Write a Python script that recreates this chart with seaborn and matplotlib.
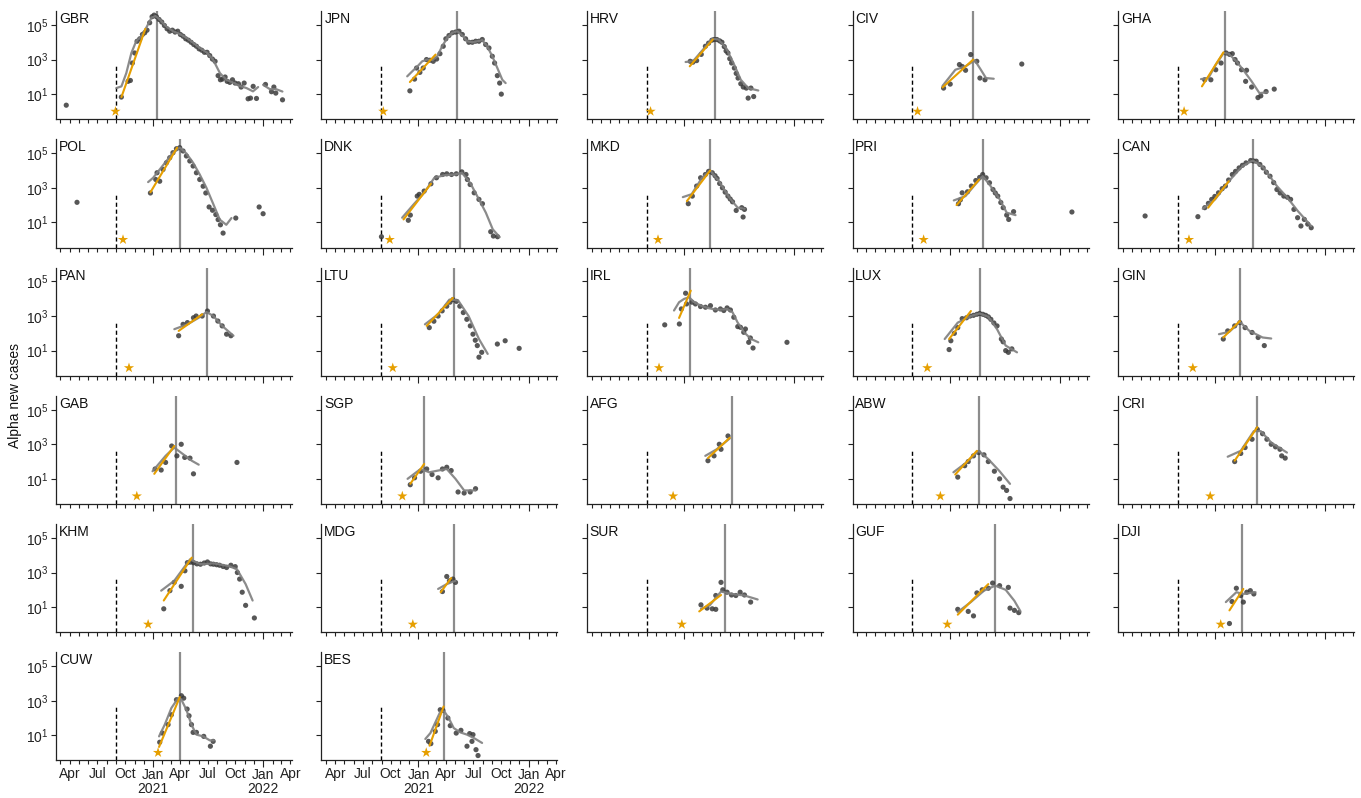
import numpy as np
import pandas as pd
import matplotlib
matplotlib.use("Agg")
import matplotlib.pyplot as plt
import matplotlib.dates as mdates
from matplotlib.ticker import FixedLocator, NullLocator, FuncFormatter
import seaborn as sns

# ---------------- data (x: decimal months since 2020-01-01, y: log10 new cases) -------------
COUNTRIES = ["GBR", "JPN", "HRV", "CIV", "GHA",
             "POL", "DNK", "MKD", "PRI", "CAN",
             "PAN", "LTU", "IRL", "LUX", "GIN",
             "GAB", "SGP", "AFG", "ABW", "CRI",
             "KHM", "MDG", "SUR", "GUF", "DJI",
             "CUW", "BES"]

ALPHA_FIRST_MONTH = 8.0          # first detection of Alpha (dashed line)
DASH_TOP = 500                   # dashed line top (cases)

STAR = {"GBR": 7.95, "JPN": 8.2, "HRV": 8.39, "CIV": 8.55, "GHA": 8.66,
        "POL": 8.77, "DNK": 8.9, "MKD": 9.2, "PRI": 9.21, "CAN": 9.19,
        "PAN": 9.42, "LTU": 9.23, "IRL": 9.31, "LUX": 9.61, "GIN": 9.61,
        "GAB": 10.27, "SGP": 10.27, "AFG": 10.84, "ABW": 11.03, "CRI": 11.5,
        "KHM": 11.5, "MDG": 11.41, "SUR": 11.79, "GUF": 11.79, "DJI": 12.64,
        "CUW": 12.58, "BES": 12.87}

PEAK = {"GBR": 12.47, "JPN": 16.17, "HRV": 15.37, "CIV": 14.6, "GHA": 13.1,
        "POL": 15.0, "DNK": 16.52, "MKD": 14.87, "PRI": 15.63, "CAN": 16.13,
        "PAN": 17.85, "LTU": 15.86, "IRL": 12.65, "LUX": 15.39, "GIN": 14.72,
        "GAB": 14.53, "SGP": 12.64, "AFG": 17.28, "ABW": 15.2, "CRI": 16.62,
        "KHM": 16.43, "MDG": 15.86, "SUR": 16.43, "GUF": 17.0, "DJI": 14.91,
        "CUW": 15.0, "BES": 14.76}

FIT = {"GBR": [(8.6, 0.83), (11.2, 4.78)], "JPN": [(11.09, 1.70), (13.89, 3.29)],
       "HRV": [(12.65, 2.61), (15.16, 4.16)], "CIV": [(11.27, 1.39), (14.6, 3.0)],
       "GHA": [(10.6, 1.45), (12.94, 3.42)], "POL": [(11.75, 2.74), (14.65, 5.32)],
       "DNK": [(10.4, 1.17), (13.38, 3.23)], "MKD": [(12.34, 2.23), (14.87, 4.0)],
       "PRI": [(12.79, 2.0), (15.25, 3.48)], "CAN": [(11.28, 1.85), (13.52, 3.38)],
       "PAN": [(14.82, 2.14), (17.38, 3.1)], "LTU": [(12.92, 2.43), (15.77, 4.05)],
       "IRL": [(11.49, 2.89), (12.76, 4.47)], "LUX": [(11.98, 1.67), (14.35, 3.29)],
       "GIN": [(12.92, 1.76), (14.72, 2.71)], "GAB": [(12.17, 1.29), (14.34, 2.9)],
       "SGP": [(11.13, 0.71), (12.64, 1.86)], "AFG": [(14.63, 2.2), (17.0, 3.38)],
       "ABW": [(12.64, 1.25), (15.0, 2.62)], "CRI": [(14.16, 2.05), (16.62, 3.99)],
       "KHM": [(13.2, 1.38), (16.24, 3.86)], "MDG": [(14.44, 1.86), (15.58, 2.68)],
       "SUR": [(13.68, 0.75), (16.05, 1.7)], "GUF": [(12.92, 0.56), (16.24, 2.33)],
       "DJI": [(13.59, 0.81), (15.1, 2.05)], "CUW": [(12.69, 0.33), (14.94, 3.21)],
       "BES": [(13.23, 0.4), (14.76, 2.67)]}

POINTS = {
    "GBR": [(2.6, 0.36), (8.59, 0.83), (9.32, 1.74), (9.57, 1.79), (9.79, 2.80), (10.04, 3.38),
            (10.30, 4.06), (10.59, 4.20), (10.88, 4.45), (11.13, 4.55), (11.38, 4.70), (11.67, 5.13),
            (11.93, 5.48), (12.15, 5.57), (12.40, 5.48), (12.69, 5.32), (12.98, 5.17), (13.27, 4.97),
            (13.56, 4.78), (13.85, 4.64), (14.14, 4.70), (14.43, 4.59), (14.72, 4.64), (15.01, 4.45),
            (15.30, 4.35), (15.59, 4.20), (15.88, 4.12), (16.17, 4.00), (16.46, 3.87), (16.75, 3.77),
            (17.04, 3.62), (17.33, 3.54), (17.62, 3.42), (17.91, 3.42), (18.20, 3.23), (18.49, 3.03),
            (18.78, 2.90), (19.11, 2.07), (19.36, 1.83), (19.58, 1.87), (19.87, 1.99), (20.09, 1.74),
            (20.38, 1.68), (20.67, 1.83), (20.96, 1.64), (21.32, 1.60), (21.61, 1.41), (21.94, 1.64),
            (22.37, 0.73), (22.63, 0.77), (22.92, 1.45), (23.28, 0.75), (24.26, 1.56), (24.91, 1.14),
            (25.17, 1.41), (25.38, 1.06), (26.11, 0.67)],
    "JPN": [(11.09, 1.19), (11.6, 1.87), (11.82, 2.51), (12.18, 2.26), (12.54, 2.51), (12.9, 3.0),
            (13.27, 2.96), (13.63, 2.9), (14.0, 3.03), (14.36, 3.34), (14.72, 3.77), (15.0, 4.2),
            (15.34, 4.39), (15.7, 4.55), (16.06, 4.59), (16.43, 4.64), (16.79, 4.45), (17.15, 4.2),
            (17.5, 4.0), (17.88, 4.0), (18.24, 4.06), (18.6, 4.06), (18.96, 4.16), (19.33, 3.87),
            (19.69, 3.67), (20.05, 3.19), (20.3, 2.8), (20.6, 2.07), (20.85, 1.64), (21.03, 1.0)],
    "HRV": [(12.7, 2.9), (13.0, 2.85), (13.4, 2.94), (13.9, 3.3), (14.35, 3.77), (14.7, 3.95),
            (15.06, 4.12), (15.3, 4.16), (15.6, 4.16), (15.9, 4.08), (16.15, 4.0), (16.4, 3.75),
            (16.6, 3.5), (16.8, 3.38), (17.0, 3.05), (17.2, 2.8), (17.5, 2.51), (17.7, 2.2),
            (17.9, 1.93), (18.2, 1.6), (18.47, 1.41), (18.8, 1.35), (19.0, 0.77), (19.3, 1.35),
            (19.6, 0.86)],
    "CIV": [(11.38, 1.35), (12.1, 1.58), (13.1, 2.71), (13.4, 2.6), (13.77, 2.38), (14.33, 3.29),
            (14.99, 2.9), (15.33, 1.93), (15.88, 1.83), (19.88, 2.74)],
    "GHA": [(10.9, 1.83), (11.57, 1.83), (12.1, 2.41), (12.68, 2.8), (13.24, 3.38), (13.6, 3.3),
            (13.9, 3.34), (14.2, 3.0), (14.46, 2.8), (14.9, 2.41), (15.35, 1.74), (15.45, 2.38),
            (16.0, 1.41), (16.69, 0.8), (17.0, 0.9), (17.57, 1.15), (18.46, 1.29)],
    "POL": [(3.77, 2.16), (11.75, 2.7), (12.33, 3.48), (12.47, 3.87), (12.76, 3.38), (13.12, 4.06),
            (13.49, 4.45), (13.85, 4.74), (14.2, 5.03), (14.58, 5.26), (14.94, 5.32), (15.3, 5.13),
            (15.66, 4.84), (16.03, 4.55), (16.39, 4.26), (16.75, 3.87), (17.11, 3.48), (17.48, 3.09),
            (17.77, 2.7), (18.13, 1.89), (18.5, 1.7), (18.86, 1.45), (19.11, 1.16), (19.36, 0.86),
            (19.65, 0.38), (21.03, 1.25), (23.57, 1.89), (24.0, 1.5)],
    "DNK": [(8.0, 0.17), (10.92, 1.12), (11.14, 1.42), (11.89, 2.52), (12.11, 2.62), (12.64, 2.81),
            (13.38, 3.23), (13.98, 3.58), (14.65, 3.77), (15.1, 3.81), (15.62, 3.77), (16.14, 3.81),
            (16.74, 3.92), (17.19, 3.77), (17.34, 3.48), (17.64, 3.19), (18.08, 2.71), (18.6, 2.33),
            (18.98, 2.08), (19.88, 0.46), (20.17, 0.21), (20.62, 0.17)],
    "MKD": [(12.49, 2.08), (12.93, 2.52), (13.4, 3.1), (13.83, 3.58), (14.35, 3.77), (14.7, 3.95),
            (15.1, 3.87), (15.4, 3.7), (15.62, 3.54), (15.9, 3.25), (16.2, 3.0), (16.5, 2.75),
            (16.8, 2.52), (17.05, 2.35), (17.3, 2.19), (17.7, 1.69), (18.3, 1.85), (18.45, 1.31),
            (18.6, 1.75)],
    "PRI": [(13.0, 2.08), (13.2, 2.3), (13.4, 2.71), (13.98, 2.77), (14.4, 3.1), (14.88, 3.42),
            (15.3, 3.6), (15.63, 3.77), (16.0, 3.58), (16.37, 3.29), (16.75, 2.9), (17.0, 2.7),
            (17.27, 2.52), (17.6, 2.15), (17.86, 1.85), (18.24, 1.42), (18.46, 1.17), (18.99, 1.62),
            (25.33, 1.6)],
    "CAN": [(4.42, 1.37), (10.16, 1.33), (10.91, 1.85), (11.3, 2.1), (11.66, 2.33), (12.0, 2.5),
            (12.4, 2.71), (12.8, 2.95), (13.15, 3.1), (13.5, 3.45), (13.9, 3.77), (14.25, 3.95),
            (14.64, 4.15), (15.0, 4.3), (15.39, 4.44), (15.9, 4.58), (16.2, 4.55), (16.5, 4.54),
            (16.9, 4.35), (17.25, 4.15), (17.6, 3.9), (18.0, 3.67), (18.4, 3.3), (18.75, 2.9),
            (19.1, 2.7), (19.5, 2.52), (19.9, 2.45), (20.24, 2.33), (20.6, 1.75), (21.0, 1.27),
            (21.36, 0.79), (21.73, 1.17), (22.1, 0.9), (22.48, 0.69)],
    "PAN": [(14.82, 1.86), (15.3, 2.52), (15.77, 2.62), (16.43, 2.9), (16.72, 3.0), (17.38, 3.0),
            (17.95, 3.29), (18.6, 3.0), (19.08, 2.71), (19.55, 2.43), (20.03, 1.95), (20.5, 1.86)],
    "LTU": [(13.2, 2.33), (13.7, 2.7), (14.16, 3.0), (14.6, 3.3), (15.1, 3.57), (15.45, 3.8),
            (15.77, 3.95), (16.15, 3.85), (16.52, 3.57), (16.9, 3.2), (17.28, 2.81), (17.66, 2.43),
            (17.95, 1.95), (18.2, 1.6), (18.42, 1.29), (18.6, 0.62), (18.9, 0.9), (20.6, 1.38),
            (21.45, 1.57), (22.97, 1.13)],
    "IRL": [(9.93, 2.49), (11.52, 2.54), (11.74, 3.41), (12.2, 4.32), (12.3, 3.7), (12.9, 3.8),
            (13.27, 3.7), (13.82, 3.55), (14.36, 3.51), (14.9, 3.6), (15.44, 3.35), (15.98, 3.41),
            (16.35, 3.32), (16.71, 3.47), (17.07, 3.35), (17.44, 2.93), (17.87, 2.39), (18.16, 2.35),
            (18.52, 2.06), (18.7, 2.25), (19.06, 1.48), (19.24, 1.73), (19.53, 1.15), (23.22, 1.48)],
    "LUX": [(11.98, 1.06), (12.17, 1.57), (12.55, 2.0), (12.92, 2.33), (13.4, 2.85), (13.87, 2.9),
            (14.25, 3.0), (14.63, 3.04), (15.0, 3.1), (15.3, 3.15), (15.65, 3.1), (15.96, 3.04),
            (16.25, 2.95), (16.52, 2.81), (16.85, 2.6), (17.19, 2.43), (17.66, 1.67), (17.85, 1.51),
            (18.13, 1.0), (18.42, 0.9), (18.8, 1.1)],
    "GIN": [(12.92, 1.67), (13.4, 2.14), (14.16, 2.43), (14.72, 2.62), (15.29, 2.33), (16.05, 2.05),
            (16.71, 1.76), (17.38, 1.29)],
    "GAB": [(12.26, 1.57), (12.92, 1.51), (13.4, 1.95), (14.06, 2.9), (14.63, 2.33), (15.1, 3.0),
            (15.48, 2.24), (16.05, 2.2), (16.43, 1.29), (21.16, 1.95)],
    "SGP": [(11.13, 0.66), (11.6, 1.06), (12.26, 1.44), (12.92, 1.57), (13.5, 1.25), (14.16, 1.06),
            (14.63, 1.57), (15.1, 1.67), (15.58, 1.48), (16.33, 0.24), (16.99, 0.18), (17.65, 0.24),
            (18.23, 0.43)],
    "AFG": [(14.63, 2.05), (15.29, 2.33), (15.86, 3.0), (16.05, 2.71), (16.81, 3.48)],
    "ABW": [(12.92, 1.1), (13.68, 1.76), (14.06, 2.0), (14.63, 2.33), (15.2, 2.52), (15.77, 2.39),
            (16.24, 2.0), (16.9, 1.44), (17.47, 1.0), (17.85, 0.52), (18.23, 0.33), (18.6, -0.14)],
    "CRI": [(14.16, 2.0), (14.82, 2.47), (15.29, 2.81), (16.05, 3.29), (16.62, 3.86), (17.19, 3.61),
            (17.66, 3.29), (18.13, 3.0), (18.6, 2.85), (19.08, 2.71), (19.27, 2.33), (19.65, 2.2)],
    "KHM": [(13.2, 0.9), (13.87, 1.95), (14.34, 2.43), (15.1, 2.2), (15.5, 3.1), (15.77, 3.57),
            (16.1, 3.6), (16.43, 3.57), (16.8, 3.5), (17.19, 3.48), (17.6, 3.55), (17.95, 3.61),
            (18.3, 3.5), (18.6, 3.48), (18.95, 3.45), (19.27, 3.42), (19.65, 3.35), (20.03, 3.29),
            (20.5, 3.42), (20.97, 3.34), (21.2, 3.0), (21.45, 2.62), (21.73, 1.86), (22.1, 1.1),
            (23.05, 0.37)],
    "MDG": [(14.63, 1.9), (15.1, 2.77), (15.39, 2.52), (15.77, 2.62), (16.05, 2.43)],
    "SUR": [(13.87, 1.13), (14.53, 0.94), (15.1, 0.9), (15.48, 0.87), (15.48, 1.67), (16.05, 2.43),
            (16.24, 2.0), (16.71, 1.86), (17.19, 1.7), (17.66, 1.67), (18.13, 1.86), (18.6, 1.7),
            (19.27, 1.29)],
    "GUF": [(12.92, 0.87), (14.06, 0.75), (14.63, 0.49), (15.0, 1.82), (15.58, 2.0), (16.24, 2.09),
            (16.71, 2.39), (17.47, 2.24), (18.42, 2.14), (18.6, 0.94), (19.08, 0.81), (19.55, 0.68)],
    "DJI": [(13.59, 0.05), (13.87, 1.32), (14.34, 2.09), (14.82, 1.67), (15.1, 1.29), (15.48, 1.86),
            (15.86, 1.95), (16.24, 1.76)],
    "CUW": [(12.76, 0.6), (13.05, 1.13), (13.67, 1.62), (14.03, 2.19), (14.58, 3.06), (15.12, 3.29),
            (15.37, 3.15), (15.74, 2.52), (15.95, 2.13), (16.21, 1.62), (16.39, 1.17), (16.75, 1.17),
            (17.55, 0.94), (18.27, 0.37), (18.57, 0.65)],
    "BES": [(13.12, 0.65), (13.37, 0.52), (13.85, 1.23), (14.1, 1.62), (14.39, 2.48), (14.68, 2.44),
            (15.22, 2.0), (15.48, 1.56), (16.13, 1.13), (16.64, 1.29), (17.3, 0.37), (17.59, 1.1),
            (17.84, 0.65), (17.95, 1.04), (18.28, 0.17), (18.5, -0.17)],
}

CURVES = {
    "GBR": [(8.05, 1.35), (8.6, 1.45), (9.13, 2.22), (9.68, 3.38), (10.2, 4.06), (10.77, 4.35),
            (11.3, 4.84), (11.86, 5.42), (12.3, 5.52), (12.76, 5.32), (13.5, 4.9), (14.2, 4.64),
            (14.9, 4.49), (15.66, 4.26), (16.4, 3.97), (17.1, 3.67), (17.85, 3.42), (18.56, 3.0),
            (19.3, 2.22), (20.0, 1.83), (20.7, 1.68), (21.45, 1.48), (22.2, 1.35), (22.9, 1.16),
            (23.46, 1.41), None, (24.0, 1.54), (24.73, 1.29), (25.4, 1.29), (26.1, 1.15)],
    "JPN": [(10.8, 2.03), (11.35, 2.32), (11.9, 2.6), (12.43, 2.9), (12.98, 3.0), (13.52, 2.96),
            (14.07, 3.19), (14.6, 3.77), (15.16, 4.26), (15.7, 4.55), (16.24, 4.64), (16.79, 4.39),
            (17.33, 4.06), (17.88, 4.0), (18.42, 4.06), (18.96, 4.12), (19.5, 3.77), (20.05, 3.19),
            (20.6, 2.51), (21.14, 1.83), (21.5, 1.64)],
    "HRV": [(12.2, 2.86), (13.0, 2.9), (14.1, 3.58), (15.1, 4.2), (15.77, 4.16), (16.6, 3.67),
            (17.4, 2.8), (18.2, 1.83), (19.0, 1.35), (20.1, 1.21)],
    "CIV": [(11.27, 1.48), (12.66, 2.41), (13.77, 2.61), (14.77, 2.96), (15.43, 2.41), (15.99, 1.93),
            (16.83, 1.89)],
    "GHA": [(10.5, 1.87), (11.3, 1.93), (12.1, 2.7), (12.96, 3.38), (13.5, 3.34), (14.35, 2.9),
            (15.2, 2.32), (16.0, 1.74), (16.85, 1.06), (17.7, 1.1)],
    "POL": [(11.5, 3.33), (12.05, 3.58), (12.76, 4.06), (13.49, 4.55), (14.2, 5.03), (14.94, 5.32),
            (15.66, 4.99), (16.39, 4.45), (17.11, 3.77), (17.84, 3.0), (18.56, 2.09), (19.29, 1.16),
            (20.0, 0.86), (20.56, 1.25)],
    "DNK": [(10.25, 1.27), (11.5, 2.04), (12.64, 2.71), (13.75, 3.58), (14.88, 3.73), (16.0, 3.77),
            (16.74, 3.87), (17.64, 3.29), (18.6, 2.33), (19.35, 1.56), (20.1, 0.6), (20.85, 0.15)],
    "MKD": [(11.9, 2.46), (12.86, 2.63), (13.98, 3.58), (14.87, 4.0), (15.84, 3.38), (16.96, 2.42),
            (17.86, 1.85), (18.6, 1.79)],
    "PRI": [(12.49, 2.27), (13.76, 2.52), (14.88, 3.23), (15.63, 3.67), (16.37, 3.19), (17.49, 2.33),
            (18.24, 1.56), (19.2, 1.42)],
    "CAN": [(10.69, 1.79), (12.03, 2.33), (13.52, 3.38), (15.0, 4.25), (16.13, 4.58), (17.25, 4.19),
            (18.75, 3.1), (19.87, 2.44), (21.0, 1.67), (22.48, 0.79)],
    "PAN": [(14.35, 2.24), (15.77, 2.52), (17.0, 2.9), (17.85, 3.23), (18.6, 3.0), (19.55, 2.43),
            (20.78, 1.86)],
    "LTU": [(12.73, 2.52), (14.16, 3.1), (15.39, 3.95), (16.33, 3.91), (17.47, 3.0), (18.6, 1.67),
            (19.55, 0.81)],
    "IRL": [(10.94, 3.32), (11.49, 3.8), (12.03, 3.99), (12.58, 4.09), (13.12, 3.8), (13.85, 3.61),
            (14.57, 3.47), (15.3, 3.39), (16.02, 3.37), (16.75, 3.41), (17.3, 3.22), (17.84, 2.64),
            (18.56, 2.06), (19.29, 1.68), (20.1, 1.48)],
    "LUX": [(11.5, 1.67), (12.92, 2.62), (14.35, 3.0), (15.3, 3.15), (16.24, 2.96), (17.19, 2.24),
            (18.13, 1.29), (19.36, 0.9)],
    "GIN": [(12.45, 1.95), (13.58, 2.09), (14.72, 2.66), (15.76, 2.14), (17.19, 1.76), (18.13, 1.7)],
    "GAB": [(11.98, 1.44), (13.4, 2.33), (14.34, 2.81), (15.29, 2.43), (16.24, 2.05), (17.0, 1.82)],
    "SGP": [(10.84, 1.0), (12.26, 1.57), (13.2, 1.38), (14.16, 1.48), (15.1, 1.57), (16.05, 1.0),
            (16.99, 0.33), (18.23, 0.33)],
    "AFG": [(14.34, 2.33), (15.58, 2.71), (17.0, 3.34)],
    "ABW": [(12.45, 1.38), (13.87, 1.95), (15.2, 2.62), (16.24, 2.14), (17.47, 1.44), (18.6, 0.71)],
    "CRI": [(13.4, 2.28), (14.82, 2.62), (16.24, 3.76), (17.0, 3.76), (18.13, 3.1), (19.84, 2.52)],
    "KHM": [(12.92, 1.95), (14.34, 2.52), (16.05, 3.76), (17.19, 3.48), (18.6, 3.53), (20.22, 3.38),
            (21.16, 3.19), (22.1, 2.33), (22.86, 1.38)],
    "MDG": [(14.16, 2.05), (15.1, 2.33), (16.05, 2.52)],
    "SUR": [(13.87, 0.9), (14.82, 1.1), (16.05, 1.9), (17.19, 1.76), (18.6, 1.67), (20.03, 1.44)],
    "GUF": [(12.92, 0.71), (14.34, 1.29), (15.77, 1.95), (17.0, 2.24), (18.13, 2.0), (19.08, 1.36),
            (19.74, 0.75)],
    "DJI": [(13.2, 1.29), (14.34, 1.86), (15.1, 1.76), (16.43, 1.86)],
    "CUW": [(12.69, 0.94), (13.31, 1.62), (14.03, 2.58), (14.76, 3.15), (15.12, 3.06), (15.66, 2.48),
            (16.21, 1.62), (16.75, 1.04), (17.48, 0.94), (18.2, 0.71), (18.64, 0.71)],
    "BES": [(12.77, 0.79), (13.32, 1.13), (13.86, 1.75), (14.41, 2.38), (14.84, 2.38), (15.31, 2.0),
            (15.86, 1.42), (16.58, 1.17), (17.3, 1.04), (18.03, 0.85), (18.94, 0.56)],
}

LABELLED_X = {"CUW", "BES"}


def to_date(m):
    return pd.Timestamp("2020-01-01") + pd.to_timedelta(np.asarray(m, dtype=float) * 30.4375, unit="D")


def segments(pairs):
    seg = []
    for p in pairs:
        if p is None:
            if seg:
                yield seg
            seg = []
        else:
            seg.append(p)
    if seg:
        yield seg


# ---------------- style ----------------
sns.set_style("ticks")
plt.rcParams["font.family"] = ["Liberation Sans", "DejaVu Sans"]
plt.rcParams["axes.edgecolor"] = "#222222"
plt.rcParams["xtick.color"] = "#222222"
plt.rcParams["ytick.color"] = "#222222"
plt.rcParams["text.color"] = "#111111"

GREY_PTS = "#3a3a3a"
GREY_LINE = "#7f7f7f"
ORANGE = "#E69F00"
FS = 10

YLIM = (0.35, 6.3e5)
XLIM = (pd.Timestamp("2020-02-15"), pd.Timestamp("2022-04-06"))
JAN_TICKS = [pd.Timestamp("2021-01-01"), pd.Timestamp("2022-01-01")]
MONTH_TICKS = pd.date_range("2020-03-01", "2022-04-01", freq="MS")

fig, axes = plt.subplots(6, 5, figsize=(13.61, 7.98), dpi=100)
fig.subplots_adjust(left=0.0411, right=0.9949, top=0.986, bottom=0.047,
                    wspace=0.125, hspace=0.186)

for i, ax in enumerate(axes.flat):
    if i >= len(COUNTRIES):
        ax.set_visible(False)
        continue
    c = COUNTRIES[i]
    ax.set_yscale("log")

    # peak line and first-detection line
    ax.axvline(to_date(PEAK[c]), color="#8c8c8c", lw=1.6, zorder=1)
    ax.vlines(to_date(ALPHA_FIRST_MONTH), YLIM[0], DASH_TOP, colors="black",
              linestyles=(0, (3, 2)), lw=1.0, zorder=1)

    pts = pd.DataFrame(POINTS[c], columns=["m", "lg"])
    sns.scatterplot(x=to_date(pts["m"]), y=10 ** pts["lg"].to_numpy(), ax=ax,
                    color=GREY_PTS, s=14, alpha=0.85, edgecolor="none", zorder=3)

    for seg in segments(CURVES[c]):
        cv = pd.DataFrame(seg, columns=["m", "lg"])
        sns.lineplot(x=to_date(cv["m"]), y=10 ** cv["lg"].to_numpy(), ax=ax,
                     color=GREY_LINE, lw=1.6, alpha=0.9, zorder=4)

    fit = pd.DataFrame(FIT[c], columns=["m", "lg"])
    sns.lineplot(x=to_date(fit["m"]), y=10 ** fit["lg"].to_numpy(), ax=ax,
                 color=ORANGE, lw=1.5, zorder=5)

    sns.scatterplot(x=[to_date(STAR[c])], y=[1.0], ax=ax, marker="*", s=60,
                    color=ORANGE, edgecolor="none", zorder=6, clip_on=False)

    ax.set_ylim(*YLIM)
    ax.set_xlim(*XLIM)
    ax.set_xlabel("")
    ax.set_ylabel("")

    # y ticks
    ax.set_yticks([1e1, 1e3, 1e5])
    ax.yaxis.set_minor_locator(NullLocator())
    ax.tick_params(axis="y", which="major", length=3.5, width=0.8, labelsize=FS, pad=2)

    # x ticks: Jan = major (longer), months = minor
    ax.xaxis.set_major_locator(FixedLocator(mdates.date2num(JAN_TICKS)))
    ax.xaxis.set_major_formatter(FuncFormatter(
        lambda x, pos: "Jan\n" + mdates.num2date(x).strftime("%Y")))
    ax.xaxis.set_minor_locator(FixedLocator(mdates.date2num(MONTH_TICKS)))
    ax.xaxis.set_minor_formatter(FuncFormatter(
        lambda x, pos: mdates.num2date(x).strftime("%b")
        if mdates.num2date(x).month in (4, 7, 10) else ""))
    ax.tick_params(axis="x", which="major", length=5.0, width=0.8, labelsize=FS, pad=0.5)
    ax.tick_params(axis="x", which="minor", length=3.0, width=0.8, labelsize=FS, pad=2.0)

    if c not in LABELLED_X:
        ax.tick_params(axis="x", which="both", labelbottom=False)
    else:
        for lab in ax.get_xticklabels(which="major"):
            lab.set_linespacing(1.0)

    if i % 5 != 0:
        ax.tick_params(axis="y", labelleft=False)

    for sp in ("top", "right"):
        ax.spines[sp].set_visible(False)
    for sp in ("left", "bottom"):
        ax.spines[sp].set_linewidth(0.9)

    ax.text(0.012, 0.99, c, transform=ax.transAxes, ha="left", va="top", fontsize=FS)

fig.text(0.006, 0.505, "Alpha new cases", rotation=90, ha="left", va="center", fontsize=FS)

fig.savefig("out.png", dpi=100)
